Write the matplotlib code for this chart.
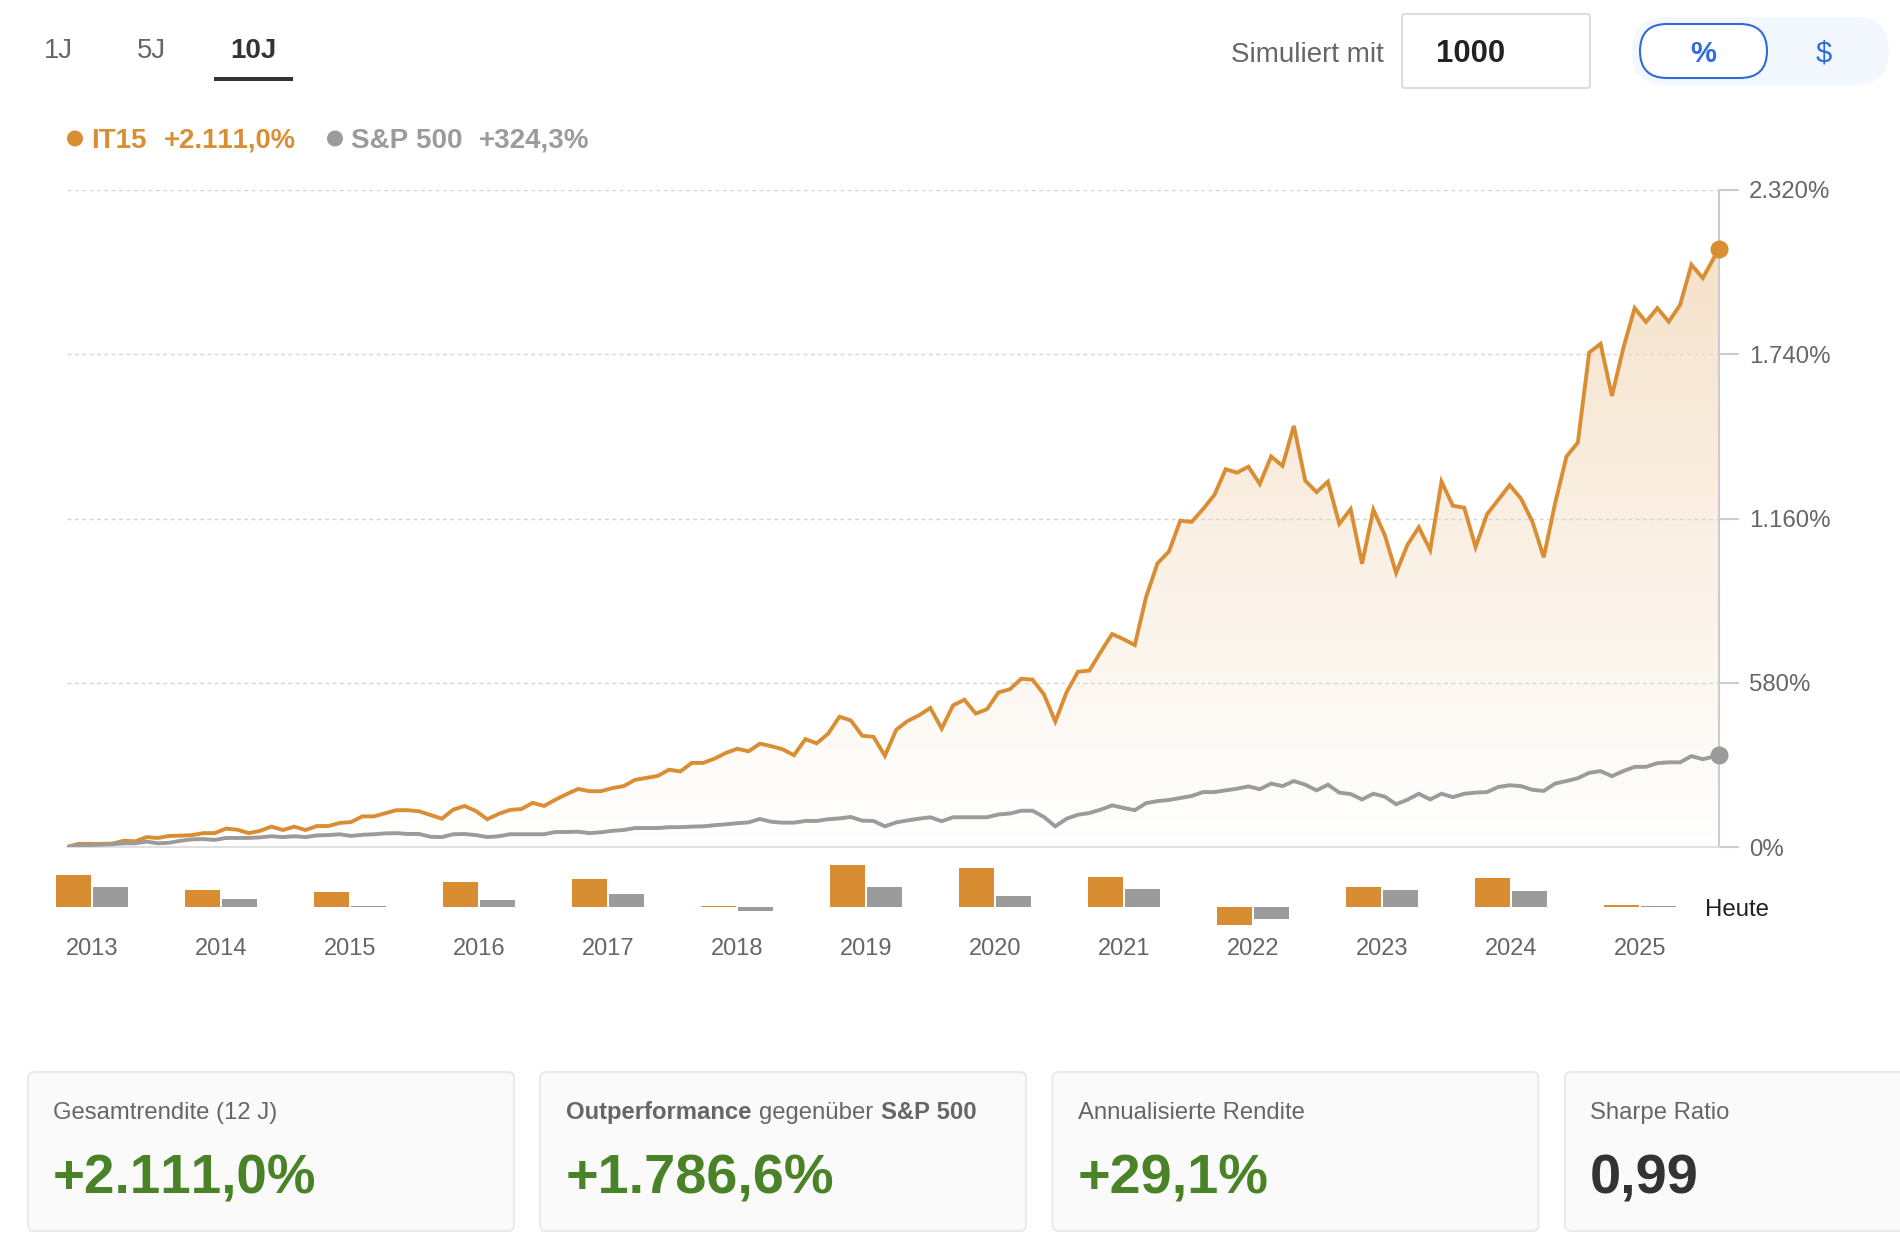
"""Recreate the IT15 vs S&P 500 performance panel."""

import matplotlib
matplotlib.use("Agg")
import matplotlib.pyplot as plt
import numpy as np
from matplotlib.colors import LinearSegmentedColormap
from matplotlib.patches import Circle, FancyBboxPatch, Polygon, Rectangle

plt.rcParams["font.family"] = ["Liberation Sans", "DejaVu Sans"]
plt.rcParams["text.kerning_factor"] = 6

ORANGE = "#DA8E34"
GRAY = "#9B9B9B"
BLUE = "#2D6BDF"
GREEN = "#4A8227"
TEXT = "#666666"
DARK = "#333333"

# monthly cumulative return in %, last point is "today" (partial month)
it15 = [
    0, 11, 11, 11, 12, 22, 20, 35, 32, 39, 40, 42, 49, 49, 65, 61, 49, 57, 72, 60,
    72, 60, 74, 74, 85, 88, 108, 108, 119, 130, 130, 126, 113, 100, 132, 145, 127, 98, 117, 131,
    134, 156, 145, 167, 187, 205, 197, 197, 208, 215, 237, 244, 251, 273, 267, 297, 297, 312, 332, 347,
    338, 365, 356, 345, 324, 381, 366, 400, 460, 447, 393, 389, 322, 414, 445, 465, 491, 418, 500, 520,
    471, 487, 546, 557, 594, 591, 539, 443, 547, 619, 623, 689, 752, 734, 713, 884, 1002, 1043, 1152, 1148,
    1193, 1243, 1334, 1322, 1343, 1282, 1379, 1346, 1487, 1294, 1253, 1290, 1141, 1193, 1000, 1191, 1102, 968, 1067, 1129,
    1049, 1290, 1205, 1198, 1059, 1175, 1226, 1278, 1230, 1149, 1023, 1214, 1379, 1428, 1746, 1777, 1593, 1761, 1903, 1854,
    1903, 1855, 1914, 2056, 2009, 2111,
]
sp500 = [
    0, 6, 7, 8, 10, 13, 13, 19, 13, 15, 22, 27, 28, 25, 32, 32, 32, 34, 38, 35,
    38, 35, 41, 42, 45, 39, 43, 45, 48, 49, 46, 46, 36, 35, 45, 46, 42, 35, 38, 45,
    45, 45, 45, 53, 53, 54, 49, 52, 57, 60, 67, 67, 67, 70, 70, 72, 73, 77, 80, 84,
    87, 99, 89, 86, 86, 92, 92, 98, 101, 106, 93, 92, 73, 87, 94, 100, 105, 91, 105, 105,
    105, 105, 115, 118, 128, 128, 106, 73, 100, 114, 120, 132, 147, 138, 130, 155, 162, 166, 173, 180,
    194, 194, 200, 206, 214, 204, 224, 215, 233, 220, 200, 220, 192, 187, 168, 188, 178, 151, 167, 188,
    168, 188, 176, 188, 192, 194, 212, 218, 215, 202, 198, 224, 233, 243, 262, 268, 250, 268, 283, 283,
    296, 299, 299, 321, 310, 324,
]
last_month_fraction = 0.4

y_ticks = [0, 580, 1160, 1740, 2320]
y_tick_labels = ["0%", "580%", "1.160%", "1.740%", "2.320%"]

years = ["2013", "2014", "2015", "2016", "2017", "2018", "2019",
         "2020", "2021", "2022", "2023", "2024", "2025"]
it15_yearly = [51, 27, 24, 40, 45, 1, 67, 62, 48, -29, 32, 46, 4]
sp500_yearly = [32, 13, 1, 12, 21, -6, 32, 18, 29, -19, 27, 26, 2]

tabs = ["1J", "5J", "10J"]
card_titles = ["Gesamtrendite (12 J)", "Annualisierte Rendite", "Sharpe Ratio"]
card_values = ["+2.111,0%", "+1.786,6%", "+29,1%", "0,99"]

W, H = 1900, 1255


def px_axes(fig, left, top, right, bottom):
    return fig.add_axes([left / W, 1 - bottom / H, (right - left) / W, (bottom - top) / H])


def draw_line_chart(fig):
    ax = px_axes(fig, 67, 190, 1718.7, 847)
    ax.patch.set_alpha(0)
    n = len(it15)
    x = np.arange(n, dtype=float)
    x[-1] = n - 2 + 1 + last_month_fraction

    # area under the orange line fades out towards zero
    cmap = LinearSegmentedColormap.from_list(
        "fade", [(0.855, 0.557, 0.204, 0.0), (0.855, 0.557, 0.204, 0.26)]
    )
    grad = np.linspace(1, 0, 256).reshape(-1, 1)
    img = ax.imshow(grad, extent=[x[0], x[-1], 0, max(it15)], aspect="auto", cmap=cmap,
                    vmin=0, vmax=1, zorder=1)
    poly = Polygon(np.vstack([np.column_stack([x, it15]), [x[-1], 0], [0, 0]]),
                   closed=True, transform=ax.transData, facecolor="none", edgecolor="none")
    ax.add_patch(poly)
    img.set_clip_path(poly)

    ax.plot(x, it15, color=ORANGE, lw=2.8, solid_joinstyle="miter", zorder=3)
    ax.plot(x, sp500, color=GRAY, lw=2.8, solid_joinstyle="miter", zorder=3)
    ax.plot(x[-1], it15[-1], "o", color=ORANGE, ms=13, mew=0, clip_on=False, zorder=5)
    ax.plot(x[-1], sp500[-1], "o", color=GRAY, ms=13, mew=0, clip_on=False, zorder=5)

    ax.set_xlim(0, x[-1])
    ax.set_ylim(0, 2320)
    ax.set_xticks([])
    ax.yaxis.tick_right()
    ax.set_yticks(y_ticks)
    ax.set_yticklabels(y_tick_labels)
    ax.tick_params(axis="y", length=14.4, width=1.5, color="#CCCCCC", pad=7.5,
                   labelsize=17.3, labelcolor=TEXT)
    ax.grid(axis="y", color="#D6D6D6", lw=1.0, linestyle=(0, (2.9, 2.4)), zorder=2)
    for name in ("top", "left"):
        ax.spines[name].set_visible(False)
    ax.spines["right"].set_color("#CCCCCC")
    ax.spines["right"].set_linewidth(1.5)
    ax.spines["bottom"].set_color("#DADADA")
    ax.spines["bottom"].set_linewidth(1.2)


def draw_year_bars(fig):
    # one year = 129 px, centred on the year label; 0.625 px per %
    ax = px_axes(fig, 40, 860, 1720, 932)
    ax.patch.set_alpha(0)
    x = np.arange(len(years))
    ax.bar(x - 0.145, it15_yearly, width=0.271, color="#D98D33")
    ax.bar(x + 0.145, sp500_yearly, width=0.271, color=GRAY)
    ax.set_xlim((40 - 92) / 129, (1720 - 92) / 129)
    ax.set_ylim(-25 / 0.625, 47 / 0.625)
    ax.set_xticks(x)
    ax.set_xticklabels(years)
    ax.set_yticks([])
    ax.tick_params(axis="x", length=0, pad=4.5, labelsize=17, labelcolor=TEXT)
    for spine in ax.spines.values():
        spine.set_visible(False)


def draw_header(ov):
    ov.text(58, 58, tabs[0], ha="center", va="baseline", fontsize=19.8, color=TEXT)
    ov.text(151, 58, tabs[1], ha="center", va="baseline", fontsize=19.8, color=TEXT)
    ov.text(253.5, 58, tabs[2], ha="center", va="baseline", fontsize=20, color=DARK, fontweight="bold")
    ov.add_patch(Rectangle((214, 77), 79, 4, color=DARK, lw=0))

    ov.text(1231, 62, "Simuliert mit", va="baseline", fontsize=20, color=TEXT)
    ov.add_patch(FancyBboxPatch((1402, 14), 188, 74, boxstyle="round,pad=0,rounding_size=3",
                                facecolor="white", edgecolor="#DDDDDD", lw=1.5))
    ov.text(1435.5, 62, "1000", va="baseline", fontsize=22.4, color="#222222", fontweight="bold")

    ov.add_patch(FancyBboxPatch((1632, 17), 257, 68, boxstyle="round,pad=0,rounding_size=34",
                                facecolor="#F3F7FE", edgecolor="none"))
    ov.add_patch(FancyBboxPatch((1640, 24), 127, 54, boxstyle="round,pad=0,rounding_size=27",
                                facecolor="white", edgecolor=BLUE, lw=1.5))
    ov.text(1703, 62, "%", ha="center", va="baseline", fontsize=21, color=BLUE, fontweight="bold")
    ov.text(1824, 62, "$", ha="center", va="baseline", fontsize=21, color=BLUE)

    ov.add_patch(Circle((75, 138.5), 8, color=ORANGE, lw=0))
    ov.text(91, 148, "IT15", va="baseline", fontsize=20, color=ORANGE, fontweight="bold")
    ov.text(163.5, 148, "+2.111,0%", va="baseline", fontsize=19.8, color=ORANGE, fontweight="bold")
    ov.add_patch(Circle((335, 138.5), 8, color=GRAY, lw=0))
    ov.text(351, 148, "S&P 500", va="baseline", fontsize=20, color=GRAY, fontweight="bold")
    ov.text(478.5, 148, "+324,3%", va="baseline", fontsize=20, color=GRAY, fontweight="bold")

    ov.text(1705, 916.5, "Heute", va="baseline", fontsize=17.3, color="#222222")


def draw_cards(ov):
    lefts = [28, 540, 1052.5, 1565]
    widths = [486, 486, 486, 500]
    text_x = [53, 566, 1078, 1590]
    for left, width in zip(lefts, widths):
        ov.add_patch(FancyBboxPatch((left, 1072), width, 159, boxstyle="round,pad=0,rounding_size=6",
                                    facecolor="#FAFAFA", edgecolor="#E8E8E8", lw=1.3))

    ov.text(text_x[0], 1119, card_titles[0], va="baseline", fontsize=17.2, color=TEXT)
    ov.text(566, 1119, "Outperformance", va="baseline", fontsize=17.2, color=TEXT, fontweight="bold")
    ov.text(759, 1119, "gegenüber", va="baseline", fontsize=17.2, color=TEXT)
    ov.text(881, 1119, "S&P 500", va="baseline", fontsize=17.2, color=TEXT, fontweight="bold")
    ov.text(text_x[2], 1119, card_titles[1], va="baseline", fontsize=17.2, color=TEXT)
    ov.text(text_x[3], 1119, card_titles[2], va="baseline", fontsize=17.2, color=TEXT)

    colors = [GREEN, GREEN, GREEN, DARK]
    sizes = [39.4, 40.2, 40.2, 40.2]
    for xpos, value, color, size in zip(text_x, card_values, colors, sizes):
        ov.text(xpos, 1193, value, va="baseline", fontsize=size, color=color, fontweight="bold")


def main():
    fig = plt.figure(figsize=(W / 100, H / 100), dpi=100, facecolor="white")
    ov = fig.add_axes([0, 0, 1, 1])
    ov.set_xlim(0, W)
    ov.set_ylim(H, 0)
    ov.axis("off")
    draw_header(ov)
    draw_cards(ov)
    draw_line_chart(fig)
    draw_year_bars(fig)
    fig.savefig("out.png", dpi=100)


if __name__ == "__main__":
    main()
